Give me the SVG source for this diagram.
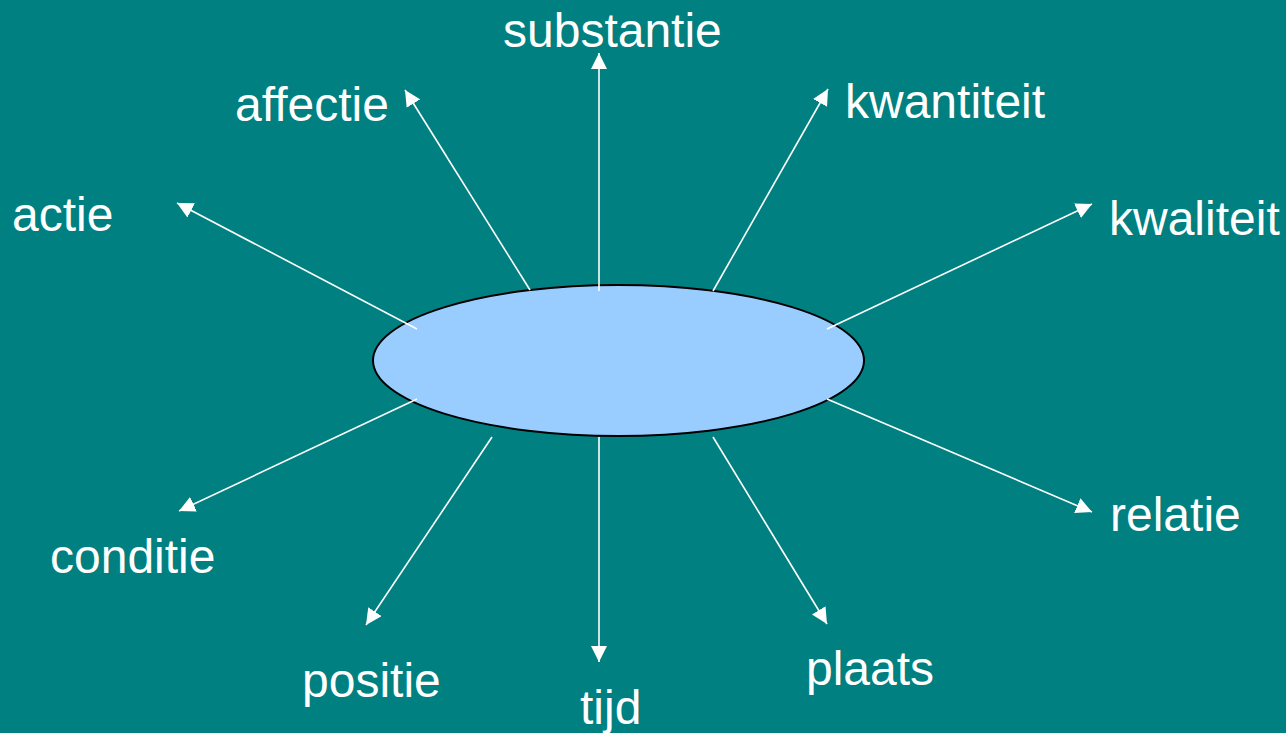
<svg xmlns="http://www.w3.org/2000/svg" width="1286" height="733" viewBox="0 0 1286 733">
<style>
.lbl{font-family:"Liberation Sans",Arial,sans-serif;font-size:48px;fill:#ffffff}
.con{stroke:#ffffff;stroke-width:1.6;fill:none;marker-end:url(#ah)}
</style>
<defs>
<marker id="ah" viewBox="0 0 10 10" refX="10" refY="5" markerWidth="10" markerHeight="10" markerUnits="strokeWidth" orient="auto">
<path d="M0,0 L10,5 L0,10 Z" fill="#ffffff"/>
</marker>
</defs>
<rect width="1286" height="733" fill="#008080"/>
<g id="center">
<ellipse cx="618.5" cy="360.5" rx="245.5" ry="75.5" fill="#99CCFF" stroke="#000000" stroke-width="2"/>
</g>
<g id="connectors">
<line class="con" x1="599" y1="291" x2="599" y2="53"/>
<line class="con" x1="599" y1="437" x2="599" y2="662"/>
<line class="con" x1="530" y1="290" x2="405" y2="90"/>
<line class="con" x1="417" y1="329" x2="177" y2="203"/>
<line class="con" x1="713" y1="291" x2="828" y2="89"/>
<line class="con" x1="827" y1="329" x2="1092" y2="204"/>
<line class="con" x1="417" y1="399" x2="179" y2="511"/>
<line class="con" x1="492" y1="437" x2="366" y2="625"/>
<line class="con" x1="713" y1="437" x2="827" y2="624"/>
<line class="con" x1="827" y1="399" x2="1092" y2="512"/>
</g>
<g id="n-substantie"><text class="lbl" x="503" y="47">substantie</text></g>
<g id="n-affectie"><text class="lbl" x="235" y="121">affectie</text></g>
<g id="n-kwantiteit"><text class="lbl" x="845" y="118">kwantiteit</text></g>
<g id="n-actie"><text class="lbl" x="12" y="231">actie</text></g>
<g id="n-kwaliteit"><text class="lbl" x="1109" y="235">kwaliteit</text></g>
<g id="n-conditie"><text class="lbl" x="50" y="573">conditie</text></g>
<g id="n-relatie"><text class="lbl" x="1110" y="531">relatie</text></g>
<g id="n-positie"><text class="lbl" x="302" y="697">positie</text></g>
<g id="n-tijd"><text class="lbl" x="580" y="724">tijd</text></g>
<g id="n-plaats"><text class="lbl" x="806" y="685">plaats</text></g>
</svg>
